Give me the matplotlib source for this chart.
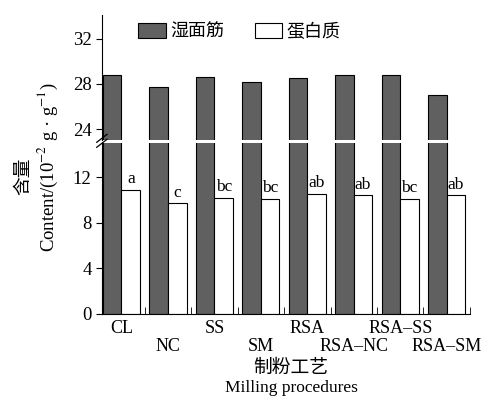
import matplotlib
matplotlib.use('Agg')
from matplotlib import pyplot as plt
import numpy as np

plt.rcParams['font.family'] = ['Liberation Serif', 'Noto Sans CJK SC']
plt.rcParams['mathtext.fontset'] = 'stix'

# 数据
procedures = ['CL', 'NC', 'SS', 'SM', 'RSA', 'RSA\u2013NC', 'RSA\u2013SS', 'RSA\u2013SM']
wet_gluten = [28.75, 27.75, 28.6, 28.2, 28.5, 28.8, 28.82, 27.05]
protein = [10.9, 9.7, 10.2, 10.1, 10.5, 10.4, 10.1, 10.4]
letters = ['a', 'c', 'bc', 'bc', 'ab', 'ab', 'bc', 'ab']

x = np.arange(len(procedures))
w = 0.4
dark = '#606060'

fig = plt.figure(figsize=(4.91, 4.0), dpi=100)
ax_top = fig.add_axes([0.2077, 0.649, 0.7493, 0.3135])
ax_low = fig.add_axes([0.2077, 0.215, 0.7493, 0.4275])

for ax in (ax_top, ax_low):
    ax.bar(x - w / 2, wet_gluten, w, color=dark, edgecolor='black', linewidth=0.8, label='湿面筋')
    ax.bar(x + w / 2, protein, w, color='white', edgecolor='black', linewidth=0.8, label='蛋白质')
    ax.set_xlim(-0.42, 7.5)
    ax.spines['right'].set_visible(False)
    ax.spines['top'].set_visible(False)
    ax.tick_params(axis='y', labelsize=13.5, direction='out', length=4)

ax_top.set_ylim(23, 34.1)
ax_top.set_yticks([24, 28, 32])
ax_top.spines['bottom'].set_visible(False)
ax_top.set_xticks([])

ax_low.set_ylim(0, 15)
ax_low.set_yticks([0, 4, 8, 12])
ax_low.set_xticks(x)
ax_low.set_xticklabels([])
ax_low.tick_params(axis='x', length=0)
ax_low.set_xticks(np.arange(0.5, 7.6, 1.0), minor=True)
ax_low.tick_params(axis='x', which='minor', direction='in', length=5)

# 类别标签(交错排列)
for i, name in enumerate(procedures):
    ax_low.annotate(name, xy=(x[i], 0), xycoords=('data', 'axes fraction'),
                    xytext=(0, -4 if i % 2 == 0 else -17), textcoords='offset points',
                    ha='center', va='top', fontsize=13)

# 显著性字母
for i, s in enumerate(letters):
    ax_low.text(x[i] + w / 2, protein[i] + 0.25, s, ha='center', va='bottom', fontsize=12.5)

# 断轴标记
kw = dict(color='black', linewidth=0.9, clip_on=False)
for dy in (-2.5, 2.5):
    fig.add_artist(plt.Line2D([0.197, 0.218], [0.648 + dy / 400 - 0.01, 0.648 + dy / 400 + 0.01],
                              transform=fig.transFigure, **kw))

ax_top.legend(loc='upper left', bbox_to_anchor=(0.055, 1.065), ncol=2, frameon=False,
              handlelength=1.5, handleheight=0.9, handletextpad=0.25,
              columnspacing=1.7, prop={'family': ['Noto Sans CJK SC'], 'size': 13})

fig.text(0.047, 0.56, '含量', rotation=90, ha='center', va='center', fontsize=13.5,
         family=['Noto Sans CJK SC'])
fig.text(0.098, 0.582, r'Content/(10$^{-2}$ g · g$^{-1}$)', rotation=90, ha='center',
         va='center', fontsize=13.5)
fig.text(0.593, 0.082, '制粉工艺', ha='center', va='center', fontsize=13.5,
         family=['Noto Sans CJK SC'])
fig.text(0.593, 0.03, 'Milling procedures', ha='center', va='center', fontsize=12.5)

fig.savefig('out.png', dpi=100)
